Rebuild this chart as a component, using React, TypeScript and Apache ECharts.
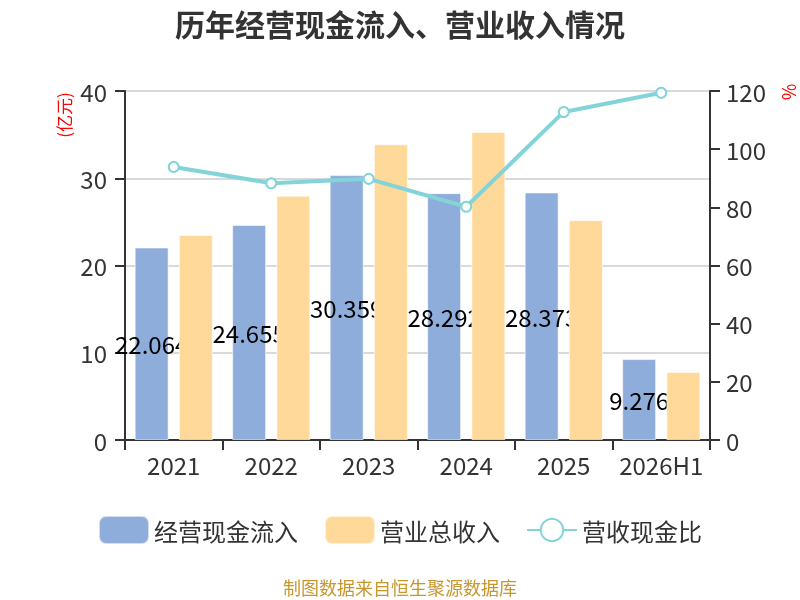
import React, { useEffect, useRef } from "react";
import * as echarts from "echarts";

const categories = ["2021", "2022", "2023", "2024", "2025", "2026H1"];
const cashInflow = [22.064, 24.655, 30.359, 28.292, 28.373, 9.276];
const revenue = [23.5, 28.0, 33.9, 35.3, 25.2, 7.8];
const cashRatio = [93.9, 88.3, 89.8, 80.2, 112.8, 119.4];

const FONT = "'Microsoft YaHei', 'Noto Sans CJK SC', 'Noto Sans', sans-serif";

export default function App() {
  const ref = useRef<HTMLDivElement>(null);
  useEffect(() => {
    if (!ref.current) return;
    const chart = echarts.init(ref.current, null, { renderer: "svg" });
    chart.setOption({
      animation: false,
      textStyle: { fontFamily: FONT },
      title: {
        text: "历年经营现金流入、营业收入情况",
        left: "center",
        top: 3,
        textStyle: { fontSize: 30, fontWeight: "bold", color: "#333", fontFamily: FONT },
      },
      grid: { left: 125, right: 90, top: 91, bottom: 160, containLabel: false },
      legend: {
        bottom: 50,
        left: "center",
        itemWidth: 50,
        itemHeight: 28,
        itemGap: 26,
        textStyle: { fontSize: 24, color: "#333", fontFamily: FONT },
        data: ["经营现金流入", "营业总收入", "营收现金比"],
      },
      graphic: [
        {
          type: "text",
          x: 63,
          y: 115,
          rotation: Math.PI / 2,
          style: {
            text: "(亿元)",
            fill: "#ff0000",
            fontSize: 17,
            fontFamily: FONT,
            align: "center",
            verticalAlign: "middle",
          },
        },
        {
          type: "text",
          x: 788,
          y: 92,
          rotation: Math.PI / 2,
          style: {
            text: "%",
            fill: "#ff0000",
            fontSize: 18,
            fontFamily: FONT,
            align: "center",
            verticalAlign: "middle",
          },
        },
        {
          type: "text",
          x: 400,
          y: 587,
          style: {
            text: "制图数据来自恒生聚源数据库",
            fill: "#C8962E",
            fontSize: 18,
            fontFamily: FONT,
            align: "center",
            verticalAlign: "middle",
          },
        },
      ],
      xAxis: {
        type: "category",
        data: categories,
        axisLine: { lineStyle: { color: "#333", width: 2 } },
        axisTick: { show: true, length: 10, lineStyle: { color: "#333", width: 2 } },
        axisLabel: { interval: 0, fontSize: 24, color: "#333", margin: 12, fontFamily: FONT },
      },
      yAxis: [
        {
          type: "value",
          min: 0,
          max: 40,
          interval: 10,
          axisLine: { show: true, lineStyle: { color: "#333", width: 2 } },
          axisTick: { show: true, length: 10, lineStyle: { color: "#333", width: 2 } },
          axisLabel: { fontSize: 24, color: "#333", margin: 18, fontFamily: FONT },
          splitLine: { show: true, lineStyle: { color: "#ccc", width: 1.5 } },
        },
        {
          type: "value",
          min: 0,
          max: 120,
          interval: 20,
          position: "right",
          axisLine: { show: true, lineStyle: { color: "#333", width: 2 } },
          axisTick: { show: true, length: 10, lineStyle: { color: "#333", width: 2 } },
          axisLabel: { fontSize: 24, color: "#333", margin: 16, fontFamily: FONT },
          splitLine: { show: false },
        },
      ],
      series: [
        {
          name: "经营现金流入",
          type: "bar",
          data: cashInflow,
          barWidth: 34,
          barGap: "30%",
          z: 2,
          itemStyle: { color: "#8FADDB", borderColor: "rgba(255,255,255,0.6)", borderWidth: 1 },
          label: {
            show: true,
            position: "inside",
            color: "#000",
            fontSize: 24,
            fontFamily: FONT,
          },
        },
        {
          name: "营业总收入",
          type: "bar",
          data: revenue,
          barWidth: 34,
          barGap: "30%",
          z: 3,
          itemStyle: { color: "#FFD999", borderColor: "rgba(255,255,255,0.6)", borderWidth: 1 },
        },
        {
          name: "营收现金比",
          type: "line",
          yAxisIndex: 1,
          data: cashRatio,
          z: 4,
          symbol: "emptyCircle",
          symbolSize: 10,
          lineStyle: { color: "#83D4D8", width: 4 },
          itemStyle: { color: "#83D4D8", borderWidth: 2 },
        },
      ],
    });
    return () => chart.dispose();
  }, []);
  return (
    <div
      ref={ref}
      style={{ position: "fixed", left: 0, top: 0, width: 800, height: 600 }}
    />
  );
}
